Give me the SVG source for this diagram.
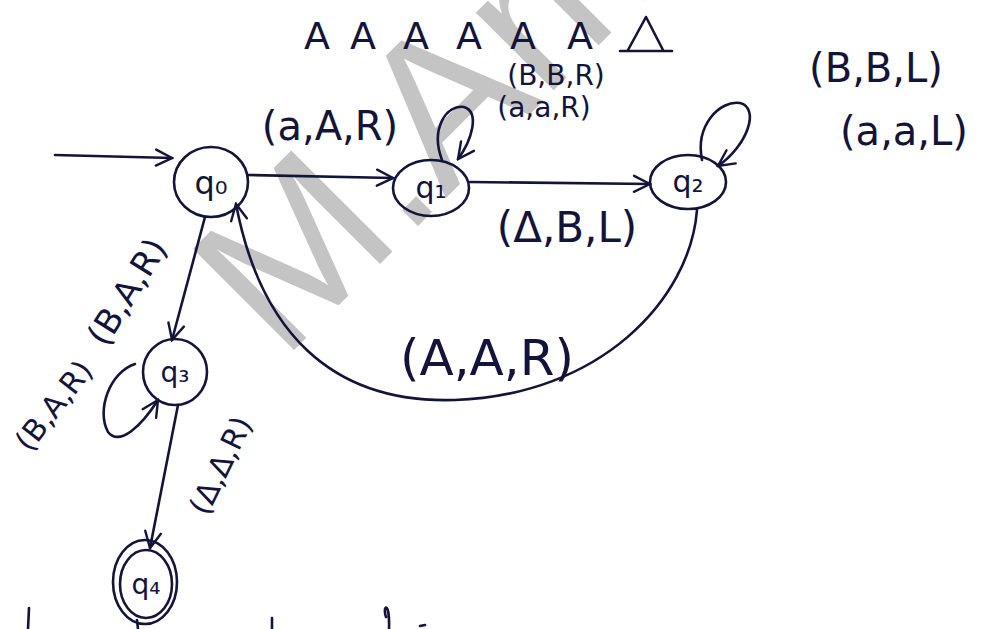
<svg xmlns="http://www.w3.org/2000/svg" width="986" height="629" viewBox="0 0 986 629">
<style>
.ink{fill:none;stroke:#14143a;stroke-width:2.6;stroke-linecap:round;stroke-linejoin:round}
.t{font-family:"DejaVu Sans","Liberation Sans",sans-serif;fill:#14143a}
.tape{font-family:"DejaVu Sans","Liberation Sans",sans-serif;fill:#14143a;font-size:38px;text-anchor:middle}
.wm{font-family:"Liberation Sans",Arial,sans-serif;fill:#c4c4c4}
</style>
<defs>
<marker id="ah" viewBox="0 0 20 20" refX="18" refY="10" markerWidth="20" markerHeight="20" markerUnits="userSpaceOnUse" orient="auto">
<path d="M2 2 L18 10 L2 18" fill="none" stroke="#14143a" stroke-width="2.4" stroke-linecap="round"/>
</marker>
</defs>
<rect width="986" height="629" fill="#ffffff"/>
<text class="wm" x="282" y="362" font-size="208" transform="rotate(-45 282 362)">M.Am</text>

<g id="tape">
<text class="tape" x="317" y="49">A</text>
<text class="tape" x="363" y="49">A</text>
<text class="tape" x="416" y="49">A</text>
<text class="tape" x="469" y="49">A</text>
<text class="tape" x="523" y="49">A</text>
<text class="tape" x="580" y="49">A</text>
<path class="ink" d="M620 51 L672 51 M628 50 L646 17 L663 50"/>
</g>

<g id="edges">
<path class="ink" d="M55 155 L172 158" marker-end="url(#ah)"/>
<path class="ink" d="M248 175 L393 178" marker-end="url(#ah)"/>
<path class="ink" d="M442 160 C430 128 447 104 464 107 C480 112 472 140 458 159" marker-end="url(#ah)"/>
<path class="ink" d="M470 182 L650 184" marker-end="url(#ah)"/>
<path class="ink" d="M702 160 C695 125 720 100 740 103 C760 108 748 145 718 166" marker-end="url(#ah)"/>
<path class="ink" d="M697 210 C690 300 600 395 455 400 C330 404 260 330 236 204" marker-end="url(#ah)"/>
<path class="ink" d="M205 217 L172 340" marker-end="url(#ah)"/>
<path class="ink" d="M135 364 C110 372 96 410 108 432 C120 447 142 425 158 400" marker-end="url(#ah)"/>
<path class="ink" d="M178 405 L150 548" marker-end="url(#ah)"/>
<text class="t" x="330" y="140" font-size="40" text-anchor="middle">(a,A,R)</text>
<text class="t" x="556" y="85" font-size="28" text-anchor="middle">(B,B,R)</text>
<text class="t" x="544" y="117" font-size="28" text-anchor="middle">(a,a,R)</text>
<text class="t" x="567" y="242" font-size="42" text-anchor="middle">(Δ,B,L)</text>
<text class="t" x="487" y="375" font-size="50" text-anchor="middle">(A,A,R)</text>
<text class="t" x="876" y="82" font-size="40" text-anchor="middle">(B,B,L)</text>
<text class="t" x="904" y="145" font-size="40" text-anchor="middle">(a,a,L)</text>
<text class="t" x="137" y="298" font-size="34" text-anchor="middle" transform="rotate(-58 137 298)">(B,A,R)</text>
<text class="t" x="62" y="412" font-size="30" text-anchor="middle" transform="rotate(-52 62 412)">(B,A,R)</text>
<text class="t" x="230" y="470" font-size="30" text-anchor="middle" transform="rotate(-64 230 470)">(Δ,Δ,R)</text>
</g>

<g id="q0"><ellipse class="ink" cx="211" cy="182" rx="37" ry="35"/><text class="t" x="211" y="194" font-size="32" text-anchor="middle">q₀</text></g>
<g id="q1"><ellipse class="ink" cx="431" cy="188" rx="38" ry="28"/><text class="t" x="431" y="198" font-size="30" text-anchor="middle">q₁</text></g>
<g id="q2"><ellipse class="ink" cx="688" cy="182" rx="38" ry="27"/><text class="t" x="688" y="192" font-size="30" text-anchor="middle">q₂</text></g>
<g id="q3"><ellipse class="ink" cx="175" cy="372" rx="32" ry="33"/><text class="t" x="175" y="382" font-size="28" text-anchor="middle">q₃</text></g>
<g id="q4"><ellipse class="ink" cx="145" cy="582" rx="32" ry="42"/><ellipse class="ink" cx="146" cy="584" rx="26" ry="34"/><text class="t" x="146" y="594" font-size="28" text-anchor="middle">q₄</text></g>

<path class="ink" d="M29 608 L28 629 M137 620 L138 629 M272 618 L272 629 M386 617 C382 605 390 600 389 629 M420 626 L425 625"/>
</svg>
